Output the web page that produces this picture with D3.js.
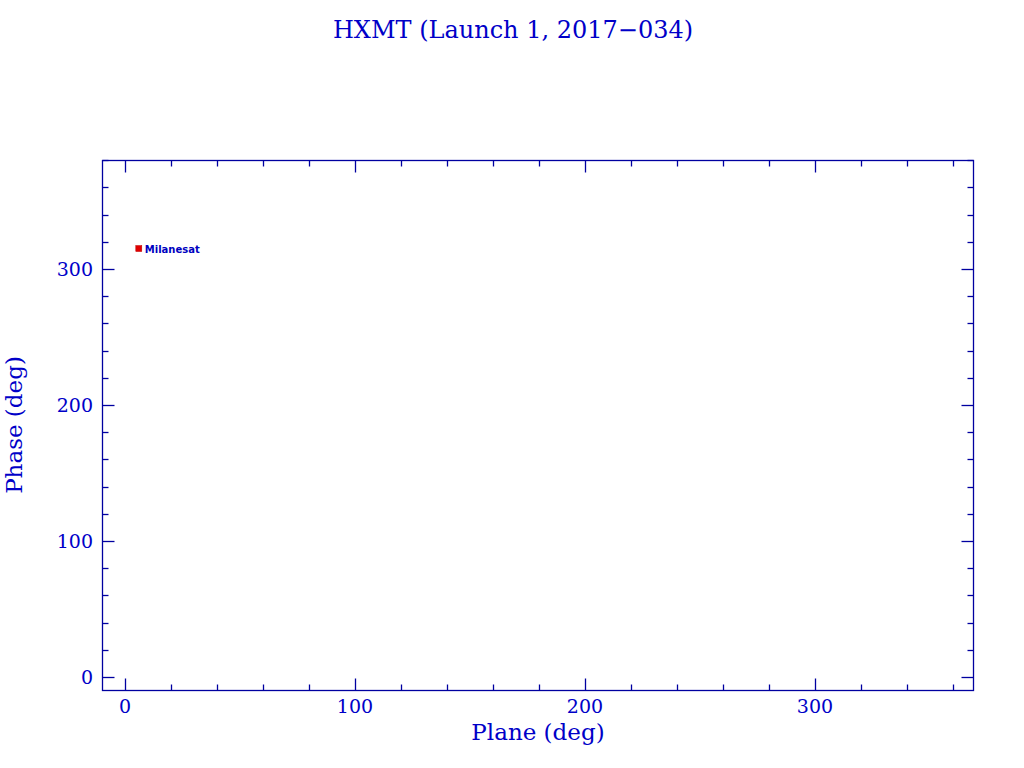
<!DOCTYPE html>
<html><head><meta charset="utf-8">
<script src="https://cdn.jsdelivr.net/npm/d3@7"></script>
<style>body{margin:0;background:#fff}svg{display:block}</style>
</head><body>
<script>
const names = ["Milanesat"];
const planeDeg = [6];
const phaseDeg = [315];
const xMajor = [0, 100, 200, 300];
const yMajor = [0, 100, 200, 300];

(function () {
const W = 1024, H = 768;
const m = {left: 102, right: 1024 - 973, top: 160, bottom: 768 - 690};
const blue = "#0000c8";
const axisCol = "#0000a0";
const font = "'DejaVu Serif', 'Liberation Serif', serif";

const svg = d3.select("body").append("svg").attr("width", W).attr("height", H);
const x = d3.scaleLinear().domain([-10, 368.7]).range([m.left, W - m.right]);
const y = d3.scaleLinear().domain([-9.6, 380.1]).range([H - m.bottom, m.top]);

const xMinor = d3.range(0, 361, 20).filter(v => !xMajor.includes(v));
const yMinor = d3.range(0, 381, 20).filter(v => !yMajor.includes(v));

svg.append("rect").attr("x", m.left + 0.5).attr("y", m.top + 0.5)
  .attr("width", W - m.left - m.right).attr("height", H - m.top - m.bottom)
  .attr("fill", "none").attr("stroke", axisCol).attr("stroke-width", 1.3);

const g = svg.append("g").attr("stroke", axisCol).attr("stroke-width", 1.3);
const yBot = H - m.bottom + 0.5, yTop = m.top + 0.5, xL = m.left + 0.5, xR = W - m.right + 0.5;
function xt(vals, len) {
  vals.forEach(v => {
    const px = Math.round(x(v)) + 0.5;
    g.append("line").attr("x1", px).attr("x2", px).attr("y1", yBot).attr("y2", yBot - len);
    g.append("line").attr("x1", px).attr("x2", px).attr("y1", yTop).attr("y2", yTop + len);
  });
}
function yt(vals, len) {
  vals.forEach(v => {
    const py = Math.round(y(v)) + 0.5;
    g.append("line").attr("y1", py).attr("y2", py).attr("x1", xL).attr("x2", xL + len);
    g.append("line").attr("y1", py).attr("y2", py).attr("x1", xR).attr("x2", xR - len);
  });
}
xt(xMajor, 12); xt(xMinor, 6); yt(yMajor, 12); yt(yMinor, 6);

svg.append("g").selectAll("text").data(xMajor).join("text")
  .attr("x", d => x(d)).attr("y", 713).attr("text-anchor", "middle")
  .attr("font-family", font).attr("font-size", 19).attr("fill", blue).text(d => d);
svg.append("g").selectAll("text").data(yMajor).join("text")
  .attr("x", 93).attr("y", d => y(d) + 7).attr("text-anchor", "end")
  .attr("font-family", font).attr("font-size", 19).attr("fill", blue).text(d => d);

svg.append("text").attr("x", 513).attr("y", 38).attr("text-anchor", "middle")
  .attr("font-family", font).attr("font-size", 24).attr("fill", blue).text("HXMT (Launch 1, 2017\u2212034)");
svg.append("text").attr("x", 538).attr("y", 740).attr("text-anchor", "middle")
  .attr("font-family", font).attr("font-size", 23).attr("fill", blue).text("Plane (deg)");
svg.append("text").attr("transform", "translate(22,425) rotate(-90)").attr("text-anchor", "middle")
  .attr("font-family", font).attr("font-size", 23).attr("fill", blue).text("Phase (deg)");

const pts = names.map((n, i) => ({n, px: planeDeg[i], py: phaseDeg[i]}));
svg.append("g").selectAll("rect").data(pts).join("rect")
  .attr("x", d => x(d.px) - 3).attr("y", d => y(d.py) - 3).attr("width", 6).attr("height", 6)
  .attr("fill", "#e00000").attr("stroke", "#c00000").attr("stroke-width", 0.5);
svg.append("g").selectAll("text").data(pts).join("text")
  .attr("x", d => x(d.px) + 6).attr("y", d => y(d.py) + 4)
  .attr("font-family", "'DejaVu Sans', sans-serif").attr("font-size", 10).attr("font-weight", "bold")
  .attr("fill", "#0000c0").text(d => d.n);
})();
</script>
</body></html>
